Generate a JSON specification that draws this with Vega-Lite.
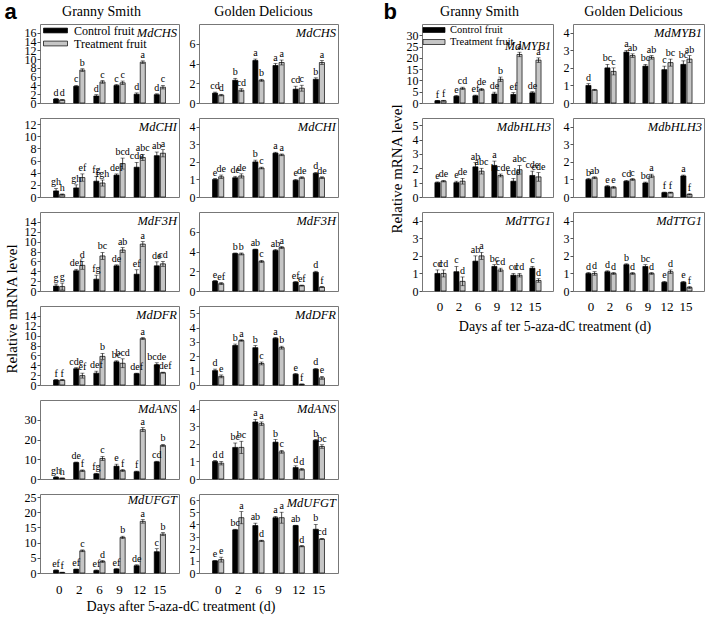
{
"$schema":"https://vega.github.io/schema/vega-lite/v6.json",
"padding":{"left":4,"top":0,"right":4,"bottom":2},
"config":{"font":"Liberation Serif","view":{"stroke":"#777","strokeWidth":1},
"axis":{"grid":false,"labelFont":"Liberation Serif","labelFontSize":12,"labelColor":"black","domain":false,"tickSize":3,"tickColor":"#555","labelPadding":1,"labelOverlap":false},
"title":{"font":"Liberation Serif","fontWeight":"normal","fontSize":14,"color":"black"},
"text":{"font":"Liberation Serif","baseline":"bottom","dy":-1,"fontSize":10,"color":"black"},
"bar":{"stroke":"black","strokeWidth":0.7},
"rule":{"strokeWidth":0.7,"color":"black"},
"tick":{"thickness":0.7,"color":"black"}},
"datasets":{"d":[
{"g":"MdCHS","c":"GS","d":0,"t":"C","v":0.9,"lo":0.8,"hi":1.0,"l":"d"},
{"g":"MdCHS","c":"GS","d":0,"t":"T","v":0.7,"lo":0.6,"hi":0.8,"l":"d"},
{"g":"MdCHS","c":"GS","d":2,"t":"C","v":3.8,"lo":3.6,"hi":4.0,"l":"c"},
{"g":"MdCHS","c":"GS","d":2,"t":"T","v":7.5,"lo":7.2,"hi":7.8,"l":"b"},
{"g":"MdCHS","c":"GS","d":6,"t":"C","v":1.6,"lo":1.3,"hi":1.9,"l":"d"},
{"g":"MdCHS","c":"GS","d":6,"t":"T","v":4.8,"lo":4.5,"hi":5.1,"l":"c"},
{"g":"MdCHS","c":"GS","d":9,"t":"C","v":4.0,"lo":3.8,"hi":4.2,"l":"c"},
{"g":"MdCHS","c":"GS","d":9,"t":"T","v":4.6,"lo":4.2,"hi":5.0,"l":"c"},
{"g":"MdCHS","c":"GS","d":12,"t":"C","v":2.0,"lo":1.7,"hi":2.3,"l":"d"},
{"g":"MdCHS","c":"GS","d":12,"t":"T","v":9.3,"lo":9.0,"hi":9.6,"l":"a"},
{"g":"MdCHS","c":"GS","d":15,"t":"C","v":1.9,"lo":1.7,"hi":2.1,"l":"d"},
{"g":"MdCHS","c":"GS","d":15,"t":"T","v":3.6,"lo":3.2,"hi":4.0,"l":"c"},
{"g":"MdCHS","c":"GD","d":0,"t":"C","v":1.0,"lo":0.9,"hi":1.1,"l":"cd"},
{"g":"MdCHS","c":"GD","d":0,"t":"T","v":0.8,"lo":0.72,"hi":0.88,"l":"d"},
{"g":"MdCHS","c":"GD","d":2,"t":"C","v":2.3,"lo":2.1,"hi":2.5,"l":"b"},
{"g":"MdCHS","c":"GD","d":2,"t":"T","v":1.3,"lo":1.15,"hi":1.45,"l":"cd"},
{"g":"MdCHS","c":"GD","d":6,"t":"C","v":4.3,"lo":4.15,"hi":4.45,"l":"a"},
{"g":"MdCHS","c":"GD","d":6,"t":"T","v":2.3,"lo":2.2,"hi":2.4,"l":"b"},
{"g":"MdCHS","c":"GD","d":9,"t":"C","v":3.8,"lo":3.6,"hi":4.0,"l":"a"},
{"g":"MdCHS","c":"GD","d":9,"t":"T","v":4.1,"lo":3.85,"hi":4.35,"l":"a"},
{"g":"MdCHS","c":"GD","d":12,"t":"C","v":1.4,"lo":1.1,"hi":1.7,"l":"cd"},
{"g":"MdCHS","c":"GD","d":12,"t":"T","v":1.5,"lo":1.2,"hi":1.8,"l":"c"},
{"g":"MdCHS","c":"GD","d":15,"t":"C","v":2.4,"lo":2.25,"hi":2.55,"l":"b"},
{"g":"MdCHS","c":"GD","d":15,"t":"T","v":4.1,"lo":3.9,"hi":4.3,"l":"a"},
{"g":"MdCHI","c":"GS","d":0,"t":"C","v":1.0,"lo":0.6,"hi":1.4,"l":"gh"},
{"g":"MdCHI","c":"GS","d":0,"t":"T","v":0.4,"lo":0.3,"hi":0.5,"l":"h"},
{"g":"MdCHI","c":"GS","d":2,"t":"C","v":1.5,"lo":1.0,"hi":2.0,"l":"gh"},
{"g":"MdCHI","c":"GS","d":2,"t":"T","v":3.2,"lo":2.6,"hi":3.8,"l":"ef"},
{"g":"MdCHI","c":"GS","d":6,"t":"C","v":2.6,"lo":1.8,"hi":3.4,"l":"fg"},
{"g":"MdCHI","c":"GS","d":6,"t":"T","v":2.3,"lo":1.8,"hi":2.8,"l":"fgh"},
{"g":"MdCHI","c":"GS","d":9,"t":"C","v":3.6,"lo":3.4,"hi":3.8,"l":"def"},
{"g":"MdCHI","c":"GS","d":9,"t":"T","v":5.5,"lo":4.6,"hi":6.4,"l":"bcd"},
{"g":"MdCHI","c":"GS","d":12,"t":"C","v":4.9,"lo":4.1,"hi":5.7,"l":"cde"},
{"g":"MdCHI","c":"GS","d":12,"t":"T","v":6.5,"lo":6.0,"hi":7.0,"l":"abc"},
{"g":"MdCHI","c":"GS","d":15,"t":"C","v":6.8,"lo":6.2,"hi":7.4,"l":"ab"},
{"g":"MdCHI","c":"GS","d":15,"t":"T","v":7.2,"lo":6.6,"hi":7.8,"l":"a"},
{"g":"MdCHI","c":"GD","d":0,"t":"C","v":1.0,"lo":0.95,"hi":1.05,"l":"e"},
{"g":"MdCHI","c":"GD","d":0,"t":"T","v":1.15,"lo":1.05,"hi":1.25,"l":"de"},
{"g":"MdCHI","c":"GD","d":2,"t":"C","v":1.1,"lo":1.02,"hi":1.18,"l":"de"},
{"g":"MdCHI","c":"GD","d":2,"t":"T","v":1.2,"lo":1.08,"hi":1.32,"l":"de"},
{"g":"MdCHI","c":"GD","d":6,"t":"C","v":2.0,"lo":1.9,"hi":2.1,"l":"b"},
{"g":"MdCHI","c":"GD","d":6,"t":"T","v":1.65,"lo":1.6,"hi":1.7,"l":"c"},
{"g":"MdCHI","c":"GD","d":9,"t":"C","v":2.5,"lo":2.45,"hi":2.55,"l":"a"},
{"g":"MdCHI","c":"GD","d":9,"t":"T","v":2.4,"lo":2.35,"hi":2.45,"l":"a"},
{"g":"MdCHI","c":"GD","d":12,"t":"C","v":0.95,"lo":0.9,"hi":1.0,"l":"e"},
{"g":"MdCHI","c":"GD","d":12,"t":"T","v":1.1,"lo":1.05,"hi":1.15,"l":"de"},
{"g":"MdCHI","c":"GD","d":15,"t":"C","v":1.35,"lo":1.3,"hi":1.4,"l":"d"},
{"g":"MdCHI","c":"GD","d":15,"t":"T","v":1.1,"lo":1.05,"hi":1.15,"l":"de"},
{"g":"MdF3H","c":"GS","d":0,"t":"C","v":1.0,"lo":0.6,"hi":1.4,"l":"g"},
{"g":"MdF3H","c":"GS","d":0,"t":"T","v":0.9,"lo":0.2,"hi":1.6,"l":"g"},
{"g":"MdF3H","c":"GS","d":2,"t":"C","v":4.1,"lo":3.8,"hi":4.4,"l":"def"},
{"g":"MdF3H","c":"GS","d":2,"t":"T","v":5.2,"lo":4.4,"hi":6.0,"l":"d"},
{"g":"MdF3H","c":"GS","d":6,"t":"C","v":2.4,"lo":1.6,"hi":3.2,"l":"fg"},
{"g":"MdF3H","c":"GS","d":6,"t":"T","v":7.1,"lo":6.4,"hi":7.8,"l":"bc"},
{"g":"MdF3H","c":"GS","d":9,"t":"C","v":5.1,"lo":4.9,"hi":5.3,"l":"de"},
{"g":"MdF3H","c":"GS","d":9,"t":"T","v":8.3,"lo":7.8,"hi":8.8,"l":"ab"},
{"g":"MdF3H","c":"GS","d":12,"t":"C","v":3.4,"lo":2.5,"hi":4.3,"l":"ef"},
{"g":"MdF3H","c":"GS","d":12,"t":"T","v":9.5,"lo":9.0,"hi":10.0,"l":"a"},
{"g":"MdF3H","c":"GS","d":15,"t":"C","v":5.1,"lo":4.3,"hi":5.9,"l":"de"},
{"g":"MdF3H","c":"GS","d":15,"t":"T","v":5.5,"lo":5.0,"hi":6.0,"l":"cd"},
{"g":"MdF3H","c":"GD","d":0,"t":"C","v":1.0,"lo":0.95,"hi":1.05,"l":"e"},
{"g":"MdF3H","c":"GD","d":0,"t":"T","v":0.75,"lo":0.65,"hi":0.85,"l":"ef"},
{"g":"MdF3H","c":"GD","d":2,"t":"C","v":3.8,"lo":3.75,"hi":3.85,"l":"b"},
{"g":"MdF3H","c":"GD","d":2,"t":"T","v":3.75,"lo":3.65,"hi":3.85,"l":"b"},
{"g":"MdF3H","c":"GD","d":6,"t":"C","v":4.2,"lo":4.15,"hi":4.25,"l":"ab"},
{"g":"MdF3H","c":"GD","d":6,"t":"T","v":3.0,"lo":2.9,"hi":3.1,"l":"c"},
{"g":"MdF3H","c":"GD","d":9,"t":"C","v":4.1,"lo":4.0,"hi":4.2,"l":"ab"},
{"g":"MdF3H","c":"GD","d":9,"t":"T","v":4.4,"lo":4.3,"hi":4.5,"l":"a"},
{"g":"MdF3H","c":"GD","d":12,"t":"C","v":0.9,"lo":0.85,"hi":0.95,"l":"ef"},
{"g":"MdF3H","c":"GD","d":12,"t":"T","v":0.55,"lo":0.5,"hi":0.6,"l":"ef"},
{"g":"MdF3H","c":"GD","d":15,"t":"C","v":1.9,"lo":1.8,"hi":2.0,"l":"d"},
{"g":"MdF3H","c":"GD","d":15,"t":"T","v":0.4,"lo":0.35,"hi":0.45,"l":"f"},
{"g":"MdDFR","c":"GS","d":0,"t":"C","v":1.0,"lo":0.9,"hi":1.1,"l":"f"},
{"g":"MdDFR","c":"GS","d":0,"t":"T","v":1.0,"lo":0.9,"hi":1.1,"l":"f"},
{"g":"MdDFR","c":"GS","d":2,"t":"C","v":3.3,"lo":3.1,"hi":3.5,"l":"cde"},
{"g":"MdDFR","c":"GS","d":2,"t":"T","v":1.9,"lo":1.4,"hi":2.4,"l":"ef"},
{"g":"MdDFR","c":"GS","d":6,"t":"C","v":2.4,"lo":2.0,"hi":2.8,"l":"def"},
{"g":"MdDFR","c":"GS","d":6,"t":"T","v":5.8,"lo":5.2,"hi":6.4,"l":"b"},
{"g":"MdDFR","c":"GS","d":9,"t":"C","v":4.7,"lo":4.5,"hi":4.9,"l":"bc"},
{"g":"MdDFR","c":"GS","d":9,"t":"T","v":4.4,"lo":3.5,"hi":5.3,"l":"bcd"},
{"g":"MdDFR","c":"GS","d":12,"t":"C","v":2.3,"lo":2.2,"hi":2.4,"l":"def"},
{"g":"MdDFR","c":"GS","d":12,"t":"T","v":9.4,"lo":9.2,"hi":9.6,"l":"a"},
{"g":"MdDFR","c":"GS","d":15,"t":"C","v":4.1,"lo":3.7,"hi":4.5,"l":"bcde"},
{"g":"MdDFR","c":"GS","d":15,"t":"T","v":2.5,"lo":2.4,"hi":2.6,"l":"cdef"},
{"g":"MdDFR","c":"GD","d":0,"t":"C","v":1.0,"lo":0.9,"hi":1.1,"l":"d"},
{"g":"MdDFR","c":"GD","d":0,"t":"T","v":0.6,"lo":0.5,"hi":0.7,"l":"e"},
{"g":"MdDFR","c":"GD","d":2,"t":"C","v":2.75,"lo":2.65,"hi":2.85,"l":"b"},
{"g":"MdDFR","c":"GD","d":2,"t":"T","v":3.1,"lo":3.05,"hi":3.15,"l":"a"},
{"g":"MdDFR","c":"GD","d":6,"t":"C","v":2.6,"lo":2.45,"hi":2.75,"l":"b"},
{"g":"MdDFR","c":"GD","d":6,"t":"T","v":1.5,"lo":1.4,"hi":1.6,"l":"c"},
{"g":"MdDFR","c":"GD","d":9,"t":"C","v":3.25,"lo":3.2,"hi":3.3,"l":"a"},
{"g":"MdDFR","c":"GD","d":9,"t":"T","v":2.6,"lo":2.5,"hi":2.7,"l":"b"},
{"g":"MdDFR","c":"GD","d":12,"t":"C","v":0.75,"lo":0.7,"hi":0.8,"l":"e"},
{"g":"MdDFR","c":"GD","d":12,"t":"T","v":0.05,"lo":0.03,"hi":0.07,"l":"f"},
{"g":"MdDFR","c":"GD","d":15,"t":"C","v":1.1,"lo":1.05,"hi":1.15,"l":"d"},
{"g":"MdDFR","c":"GD","d":15,"t":"T","v":0.5,"lo":0.4,"hi":0.6,"l":"e"},
{"g":"MdANS","c":"GS","d":0,"t":"C","v":0.9,"lo":0.7,"hi":1.1,"l":"gh"},
{"g":"MdANS","c":"GS","d":0,"t":"T","v":0.4,"lo":0.3,"hi":0.5,"l":"h"},
{"g":"MdANS","c":"GS","d":2,"t":"C","v":8.3,"lo":8.0,"hi":8.6,"l":"de"},
{"g":"MdANS","c":"GS","d":2,"t":"T","v":4.2,"lo":3.8,"hi":4.6,"l":"f"},
{"g":"MdANS","c":"GS","d":6,"t":"C","v":2.6,"lo":2.3,"hi":2.9,"l":"fg"},
{"g":"MdANS","c":"GS","d":6,"t":"T","v":10.4,"lo":9.4,"hi":11.4,"l":"c"},
{"g":"MdANS","c":"GS","d":9,"t":"C","v":6.5,"lo":5.5,"hi":7.5,"l":"e"},
{"g":"MdANS","c":"GS","d":9,"t":"T","v":4.3,"lo":3.8,"hi":4.8,"l":"f"},
{"g":"MdANS","c":"GS","d":12,"t":"C","v":3.7,"lo":3.4,"hi":4.0,"l":"f"},
{"g":"MdANS","c":"GS","d":12,"t":"T","v":25.0,"lo":24.0,"hi":26.0,"l":"a"},
{"g":"MdANS","c":"GS","d":15,"t":"C","v":8.7,"lo":8.4,"hi":9.0,"l":"cd"},
{"g":"MdANS","c":"GS","d":15,"t":"T","v":17.0,"lo":16.5,"hi":17.5,"l":"b"},
{"g":"MdANS","c":"GD","d":0,"t":"C","v":1.0,"lo":0.95,"hi":1.05,"l":"d"},
{"g":"MdANS","c":"GD","d":0,"t":"T","v":0.9,"lo":0.8,"hi":1.0,"l":"d"},
{"g":"MdANS","c":"GD","d":2,"t":"C","v":1.8,"lo":1.55,"hi":2.05,"l":"bc"},
{"g":"MdANS","c":"GD","d":2,"t":"T","v":1.8,"lo":1.45,"hi":2.15,"l":"bc"},
{"g":"MdANS","c":"GD","d":6,"t":"C","v":3.25,"lo":3.1,"hi":3.4,"l":"a"},
{"g":"MdANS","c":"GD","d":6,"t":"T","v":3.15,"lo":3.05,"hi":3.25,"l":"a"},
{"g":"MdANS","c":"GD","d":9,"t":"C","v":2.1,"lo":1.95,"hi":2.25,"l":"b"},
{"g":"MdANS","c":"GD","d":9,"t":"T","v":1.55,"lo":1.47,"hi":1.63,"l":"c"},
{"g":"MdANS","c":"GD","d":12,"t":"C","v":0.65,"lo":0.55,"hi":0.75,"l":"d"},
{"g":"MdANS","c":"GD","d":12,"t":"T","v":0.55,"lo":0.5,"hi":0.6,"l":"d"},
{"g":"MdANS","c":"GD","d":15,"t":"C","v":2.2,"lo":2.15,"hi":2.25,"l":"b"},
{"g":"MdANS","c":"GD","d":15,"t":"T","v":1.85,"lo":1.75,"hi":1.95,"l":"bc"},
{"g":"MdUFGT","c":"GS","d":0,"t":"C","v":0.9,"lo":0.8,"hi":1.0,"l":"ef"},
{"g":"MdUFGT","c":"GS","d":0,"t":"T","v":0.2,"lo":0.15,"hi":0.25,"l":"f"},
{"g":"MdUFGT","c":"GS","d":2,"t":"C","v":1.2,"lo":1.1,"hi":1.3,"l":"ef"},
{"g":"MdUFGT","c":"GS","d":2,"t":"T","v":7.3,"lo":7.0,"hi":7.6,"l":"c"},
{"g":"MdUFGT","c":"GS","d":6,"t":"C","v":0.8,"lo":0.6,"hi":1.0,"l":"ef"},
{"g":"MdUFGT","c":"GS","d":6,"t":"T","v":3.8,"lo":3.5,"hi":4.1,"l":"d"},
{"g":"MdUFGT","c":"GS","d":9,"t":"C","v":1.3,"lo":1.2,"hi":1.4,"l":"ef"},
{"g":"MdUFGT","c":"GS","d":9,"t":"T","v":11.7,"lo":11.3,"hi":12.1,"l":"b"},
{"g":"MdUFGT","c":"GS","d":12,"t":"C","v":2.4,"lo":2.1,"hi":2.7,"l":"de"},
{"g":"MdUFGT","c":"GS","d":12,"t":"T","v":17.0,"lo":16.4,"hi":17.6,"l":"a"},
{"g":"MdUFGT","c":"GS","d":15,"t":"C","v":7.0,"lo":6.0,"hi":8.0,"l":"c"},
{"g":"MdUFGT","c":"GS","d":15,"t":"T","v":12.8,"lo":12.3,"hi":13.3,"l":"b"},
{"g":"MdUFGT","c":"GD","d":0,"t":"C","v":1.0,"lo":0.97,"hi":1.03,"l":"e"},
{"g":"MdUFGT","c":"GD","d":0,"t":"T","v":1.1,"lo":0.9,"hi":1.3,"l":"e"},
{"g":"MdUFGT","c":"GD","d":2,"t":"C","v":3.55,"lo":3.5,"hi":3.6,"l":"bc"},
{"g":"MdUFGT","c":"GD","d":2,"t":"T","v":4.55,"lo":4.05,"hi":5.05,"l":"a"},
{"g":"MdUFGT","c":"GD","d":6,"t":"C","v":3.9,"lo":3.7,"hi":4.1,"l":"ab"},
{"g":"MdUFGT","c":"GD","d":6,"t":"T","v":2.65,"lo":2.6,"hi":2.7,"l":"d"},
{"g":"MdUFGT","c":"GD","d":9,"t":"C","v":4.55,"lo":4.45,"hi":4.65,"l":"a"},
{"g":"MdUFGT","c":"GD","d":9,"t":"T","v":4.55,"lo":4.1,"hi":5.0,"l":"a"},
{"g":"MdUFGT","c":"GD","d":12,"t":"C","v":3.9,"lo":3.87,"hi":3.93,"l":"ab"},
{"g":"MdUFGT","c":"GD","d":12,"t":"T","v":2.2,"lo":2.15,"hi":2.25,"l":"d"},
{"g":"MdUFGT","c":"GD","d":15,"t":"C","v":3.6,"lo":3.2,"hi":4.0,"l":"b"},
{"g":"MdUFGT","c":"GD","d":15,"t":"T","v":2.8,"lo":2.75,"hi":2.85,"l":"cd"},
{"g":"MdMYB1","c":"GS","d":0,"t":"C","v":1.0,"lo":0.9,"hi":1.1,"l":"f"},
{"g":"MdMYB1","c":"GS","d":0,"t":"T","v":1.0,"lo":0.8,"hi":1.2,"l":"f"},
{"g":"MdMYB1","c":"GS","d":2,"t":"C","v":3.0,"lo":2.7,"hi":3.3,"l":"e"},
{"g":"MdMYB1","c":"GS","d":2,"t":"T","v":6.5,"lo":6.0,"hi":7.0,"l":"cd"},
{"g":"MdMYB1","c":"GS","d":6,"t":"C","v":3.2,"lo":2.9,"hi":3.5,"l":"ef"},
{"g":"MdMYB1","c":"GS","d":6,"t":"T","v":6.0,"lo":5.5,"hi":6.5,"l":"de"},
{"g":"MdMYB1","c":"GS","d":9,"t":"C","v":4.0,"lo":3.2,"hi":4.8,"l":"de"},
{"g":"MdMYB1","c":"GS","d":9,"t":"T","v":10.5,"lo":9.5,"hi":11.5,"l":"b"},
{"g":"MdMYB1","c":"GS","d":12,"t":"C","v":3.8,"lo":3.0,"hi":4.6,"l":"ef"},
{"g":"MdMYB1","c":"GS","d":12,"t":"T","v":21.5,"lo":20.5,"hi":22.5,"l":"a"},
{"g":"MdMYB1","c":"GS","d":15,"t":"C","v":4.5,"lo":4.0,"hi":5.0,"l":"de"},
{"g":"MdMYB1","c":"GS","d":15,"t":"T","v":19.0,"lo":18.0,"hi":20.0,"l":"a"},
{"g":"MdMYB1","c":"GD","d":0,"t":"C","v":1.0,"lo":0.9,"hi":1.1,"l":"d"},
{"g":"MdMYB1","c":"GD","d":0,"t":"T","v":0.75,"lo":0.72,"hi":0.78,"l":""},
{"g":"MdMYB1","c":"GD","d":2,"t":"C","v":2.0,"lo":1.8,"hi":2.2,"l":"bc"},
{"g":"MdMYB1","c":"GD","d":2,"t":"T","v":1.8,"lo":1.6,"hi":2.0,"l":"c"},
{"g":"MdMYB1","c":"GD","d":6,"t":"C","v":2.9,"lo":2.8,"hi":3.0,"l":"a"},
{"g":"MdMYB1","c":"GD","d":6,"t":"T","v":2.7,"lo":2.6,"hi":2.8,"l":"ab"},
{"g":"MdMYB1","c":"GD","d":9,"t":"C","v":2.1,"lo":2.0,"hi":2.2,"l":"bc"},
{"g":"MdMYB1","c":"GD","d":9,"t":"T","v":2.6,"lo":2.5,"hi":2.7,"l":"ab"},
{"g":"MdMYB1","c":"GD","d":12,"t":"C","v":1.9,"lo":1.7,"hi":2.1,"l":"c"},
{"g":"MdMYB1","c":"GD","d":12,"t":"T","v":2.3,"lo":2.1,"hi":2.5,"l":"bc"},
{"g":"MdMYB1","c":"GD","d":15,"t":"C","v":2.2,"lo":2.0,"hi":2.4,"l":"bc"},
{"g":"MdMYB1","c":"GD","d":15,"t":"T","v":2.5,"lo":2.3,"hi":2.7,"l":"ab"},
{"g":"MdbHLH3","c":"GS","d":0,"t":"C","v":1.0,"lo":0.95,"hi":1.05,"l":"e"},
{"g":"MdbHLH3","c":"GS","d":0,"t":"T","v":1.1,"lo":1.05,"hi":1.15,"l":"de"},
{"g":"MdbHLH3","c":"GS","d":2,"t":"C","v":1.0,"lo":0.9,"hi":1.1,"l":"e"},
{"g":"MdbHLH3","c":"GS","d":2,"t":"T","v":1.1,"lo":0.9,"hi":1.3,"l":"de"},
{"g":"MdbHLH3","c":"GS","d":6,"t":"C","v":2.1,"lo":1.8,"hi":2.4,"l":"ab"},
{"g":"MdbHLH3","c":"GS","d":6,"t":"T","v":1.8,"lo":1.6,"hi":2.0,"l":"abc"},
{"g":"MdbHLH3","c":"GS","d":9,"t":"C","v":2.2,"lo":1.9,"hi":2.5,"l":"a"},
{"g":"MdbHLH3","c":"GS","d":9,"t":"T","v":1.5,"lo":1.4,"hi":1.6,"l":"bcde"},
{"g":"MdbHLH3","c":"GS","d":12,"t":"C","v":1.1,"lo":0.9,"hi":1.3,"l":"cde"},
{"g":"MdbHLH3","c":"GS","d":12,"t":"T","v":1.9,"lo":1.6,"hi":2.2,"l":"abc"},
{"g":"MdbHLH3","c":"GS","d":15,"t":"C","v":1.5,"lo":1.2,"hi":1.8,"l":"cde"},
{"g":"MdbHLH3","c":"GS","d":15,"t":"T","v":1.4,"lo":1.1,"hi":1.7,"l":"cde"},
{"g":"MdbHLH3","c":"GD","d":0,"t":"C","v":1.0,"lo":0.95,"hi":1.05,"l":"b"},
{"g":"MdbHLH3","c":"GD","d":0,"t":"T","v":1.1,"lo":1.05,"hi":1.15,"l":"ab"},
{"g":"MdbHLH3","c":"GD","d":2,"t":"C","v":0.6,"lo":0.55,"hi":0.65,"l":"e"},
{"g":"MdbHLH3","c":"GD","d":2,"t":"T","v":0.55,"lo":0.5,"hi":0.6,"l":"e"},
{"g":"MdbHLH3","c":"GD","d":6,"t":"C","v":0.9,"lo":0.85,"hi":0.95,"l":"cd"},
{"g":"MdbHLH3","c":"GD","d":6,"t":"T","v":1.0,"lo":0.95,"hi":1.05,"l":"c"},
{"g":"MdbHLH3","c":"GD","d":9,"t":"C","v":0.8,"lo":0.75,"hi":0.85,"l":"bc"},
{"g":"MdbHLH3","c":"GD","d":9,"t":"T","v":1.2,"lo":1.1,"hi":1.3,"l":"a"},
{"g":"MdbHLH3","c":"GD","d":12,"t":"C","v":0.25,"lo":0.22,"hi":0.28,"l":"f"},
{"g":"MdbHLH3","c":"GD","d":12,"t":"T","v":0.25,"lo":0.22,"hi":0.28,"l":"f"},
{"g":"MdbHLH3","c":"GD","d":15,"t":"C","v":1.2,"lo":1.15,"hi":1.25,"l":"a"},
{"g":"MdbHLH3","c":"GD","d":15,"t":"T","v":0.15,"lo":0.12,"hi":0.18,"l":"f"},
{"g":"MdTTG1","c":"GS","d":0,"t":"C","v":1.0,"lo":0.8,"hi":1.2,"l":"cd"},
{"g":"MdTTG1","c":"GS","d":0,"t":"T","v":1.0,"lo":0.8,"hi":1.2,"l":"cd"},
{"g":"MdTTG1","c":"GS","d":2,"t":"C","v":1.1,"lo":0.8,"hi":1.4,"l":"c"},
{"g":"MdTTG1","c":"GS","d":2,"t":"T","v":0.55,"lo":0.3,"hi":0.8,"l":"d"},
{"g":"MdTTG1","c":"GS","d":6,"t":"C","v":1.7,"lo":1.4,"hi":2.0,"l":"ab"},
{"g":"MdTTG1","c":"GS","d":6,"t":"T","v":2.0,"lo":1.8,"hi":2.2,"l":"a"},
{"g":"MdTTG1","c":"GS","d":9,"t":"C","v":1.4,"lo":1.3,"hi":1.5,"l":"bc"},
{"g":"MdTTG1","c":"GS","d":9,"t":"T","v":1.2,"lo":1.1,"hi":1.3,"l":"cd"},
{"g":"MdTTG1","c":"GS","d":12,"t":"C","v":0.9,"lo":0.8,"hi":1.0,"l":"cd"},
{"g":"MdTTG1","c":"GS","d":12,"t":"T","v":0.9,"lo":0.8,"hi":1.0,"l":"cd"},
{"g":"MdTTG1","c":"GS","d":15,"t":"C","v":1.3,"lo":1.2,"hi":1.4,"l":"c"},
{"g":"MdTTG1","c":"GS","d":15,"t":"T","v":0.6,"lo":0.5,"hi":0.7,"l":"d"},
{"g":"MdTTG1","c":"GD","d":0,"t":"C","v":1.0,"lo":0.95,"hi":1.05,"l":"d"},
{"g":"MdTTG1","c":"GD","d":0,"t":"T","v":1.0,"lo":0.9,"hi":1.1,"l":"d"},
{"g":"MdTTG1","c":"GD","d":2,"t":"C","v":1.1,"lo":1.05,"hi":1.15,"l":"d"},
{"g":"MdTTG1","c":"GD","d":2,"t":"T","v":1.0,"lo":0.95,"hi":1.05,"l":"d"},
{"g":"MdTTG1","c":"GD","d":6,"t":"C","v":1.5,"lo":1.45,"hi":1.55,"l":"b"},
{"g":"MdTTG1","c":"GD","d":6,"t":"T","v":1.0,"lo":0.95,"hi":1.05,"l":"d"},
{"g":"MdTTG1","c":"GD","d":9,"t":"C","v":1.4,"lo":1.3,"hi":1.5,"l":"bc"},
{"g":"MdTTG1","c":"GD","d":9,"t":"T","v":1.0,"lo":0.95,"hi":1.05,"l":"d"},
{"g":"MdTTG1","c":"GD","d":12,"t":"C","v":0.5,"lo":0.45,"hi":0.55,"l":"e"},
{"g":"MdTTG1","c":"GD","d":12,"t":"T","v":1.1,"lo":1.0,"hi":1.2,"l":"d"},
{"g":"MdTTG1","c":"GD","d":15,"t":"C","v":0.5,"lo":0.45,"hi":0.55,"l":"e"},
{"g":"MdTTG1","c":"GD","d":15,"t":"T","v":0.2,"lo":0.15,"hi":0.25,"l":"f"}
]},
"data":{"name":"d"},
"resolve":{"legend":{"fill":"independent"}},
"spacing":44,
"hconcat":[
{"title":{"text":"a","anchor":"start","fontSize":22,"fontWeight":"bold","font":"Liberation Sans","offset":-19},
 "resolve":{"legend":{"fill":"independent"}},
 "vconcat":[
 {"title":{"text":"Relative mRNA level","orient":"left","anchor":"middle","fontSize":15,"offset":4},
  "resolve":{"legend":{"fill":"independent"}},
  "hconcat":[
  {"title":{"text":"Days after 5-aza-dC treatment (d)","orient":"bottom","anchor":"middle","fontSize":14,"offset":3},
   "resolve":{"legend":{"fill":"independent"}},
   "spacing":8,
   "hconcat":[
   {"title":{"text":"Granny Smith","anchor":"middle","offset":5},"bounds":"flush","spacing":15,"resolve":{"legend":{"fill":"independent"}},
    "vconcat":[
{"width":139,"height":79,"title":{"text":"MdCHS","anchor":"end","offset":-15,"fontStyle":"italic","fontSize":12.5,"dx":-2},"transform":[{"filter":"datum.g=='MdCHS'&&datum.c=='GS'"}],
"encoding":{"x":{"field":"d","type":"ordinal","sort":[0,2,6,9,12,15],"scale":{"paddingInner":0.2,"paddingOuter":0.55},"axis":null},"xOffset":{"field":"t","scale":{"paddingInner":0.17,"paddingOuter":0.4}}},
"layer":[
{"mark":"bar","encoding":{"y":{"field":"v","type":"quantitative","title":null,"scale":{"domain":[0,16.2]},"axis":{"values":[0,2,4,6,8,10,12,14,16],"labelOverlap":false,"labelBound":false,"labelFlush":false}},"fill":{"field":"t","scale":{"domain":["C","T"],"range":["black","#c6c6c6"]},"legend":{"orient":"none","legendX":9,"legendY":0,"title":null,"padding":0,"labelExpr":"datum.value=='C'?'Control fruit':'Treatment fruit'","symbolType":"M-2,-0.4H2V0.4H-2Z","symbolSize":144,"symbolStrokeColor":"black","symbolStrokeWidth":0.7,"labelFontSize":12,"labelFont":"Liberation Serif","rowPadding":0,"labelOffset":12}}}},
{"mark":"rule","encoding":{"y":{"field":"lo","type":"quantitative","title":null,"axis":{"values":[0,2,4,6,8,10,12,14,16],"labelOverlap":false,"labelBound":false,"labelFlush":false}},"y2":{"field":"hi"}}},
{"mark":{"type":"tick","size":4},"encoding":{"y":{"field":"lo","type":"quantitative","title":null,"axis":{"values":[0,2,4,6,8,10,12,14,16],"labelOverlap":false,"labelBound":false,"labelFlush":false}}}},
{"mark":{"type":"tick","size":4},"encoding":{"y":{"field":"hi","type":"quantitative","title":null,"axis":{"values":[0,2,4,6,8,10,12,14,16],"labelOverlap":false,"labelBound":false,"labelFlush":false}}}},
{"mark":"text","encoding":{"y":{"field":"hi","type":"quantitative","title":null,"axis":{"values":[0,2,4,6,8,10,12,14,16],"labelOverlap":false,"labelBound":false,"labelFlush":false}},"text":{"field":"l"}}}]},
{"width":139,"height":79,"title":{"text":"MdCHI","anchor":"end","offset":-15,"fontStyle":"italic","fontSize":12.5,"dx":-2},"transform":[{"filter":"datum.g=='MdCHI'&&datum.c=='GS'"}],
"encoding":{"x":{"field":"d","type":"ordinal","sort":[0,2,6,9,12,15],"scale":{"paddingInner":0.2,"paddingOuter":0.55},"axis":null},"xOffset":{"field":"t","scale":{"paddingInner":0.17,"paddingOuter":0.4}}},
"layer":[
{"mark":"bar","encoding":{"y":{"field":"v","type":"quantitative","title":null,"scale":{"domain":[0,12.6]},"axis":{"values":[0,2,4,6,8,10,12],"labelOverlap":false,"labelBound":false,"labelFlush":false}},"fill":{"field":"t","scale":{"domain":["C","T"],"range":["black","#c6c6c6"]},"legend":null}}},
{"mark":"rule","encoding":{"y":{"field":"lo","type":"quantitative","title":null,"axis":{"values":[0,2,4,6,8,10,12],"labelOverlap":false,"labelBound":false,"labelFlush":false}},"y2":{"field":"hi"}}},
{"mark":{"type":"tick","size":4},"encoding":{"y":{"field":"lo","type":"quantitative","title":null,"axis":{"values":[0,2,4,6,8,10,12],"labelOverlap":false,"labelBound":false,"labelFlush":false}}}},
{"mark":{"type":"tick","size":4},"encoding":{"y":{"field":"hi","type":"quantitative","title":null,"axis":{"values":[0,2,4,6,8,10,12],"labelOverlap":false,"labelBound":false,"labelFlush":false}}}},
{"mark":"text","encoding":{"y":{"field":"hi","type":"quantitative","title":null,"axis":{"values":[0,2,4,6,8,10,12],"labelOverlap":false,"labelBound":false,"labelFlush":false}},"text":{"field":"l"}}}]},
{"width":139,"height":79,"title":{"text":"MdF3H","anchor":"end","offset":-15,"fontStyle":"italic","fontSize":12.5,"dx":-2},"transform":[{"filter":"datum.g=='MdF3H'&&datum.c=='GS'"}],
"encoding":{"x":{"field":"d","type":"ordinal","sort":[0,2,6,9,12,15],"scale":{"paddingInner":0.2,"paddingOuter":0.55},"axis":null},"xOffset":{"field":"t","scale":{"paddingInner":0.17,"paddingOuter":0.4}}},
"layer":[
{"mark":"bar","encoding":{"y":{"field":"v","type":"quantitative","title":null,"scale":{"domain":[0,14.4]},"axis":{"values":[0,2,4,6,8,10,12,14],"labelOverlap":false,"labelBound":false,"labelFlush":false}},"fill":{"field":"t","scale":{"domain":["C","T"],"range":["black","#c6c6c6"]},"legend":null}}},
{"mark":"rule","encoding":{"y":{"field":"lo","type":"quantitative","title":null,"axis":{"values":[0,2,4,6,8,10,12,14],"labelOverlap":false,"labelBound":false,"labelFlush":false}},"y2":{"field":"hi"}}},
{"mark":{"type":"tick","size":4},"encoding":{"y":{"field":"lo","type":"quantitative","title":null,"axis":{"values":[0,2,4,6,8,10,12,14],"labelOverlap":false,"labelBound":false,"labelFlush":false}}}},
{"mark":{"type":"tick","size":4},"encoding":{"y":{"field":"hi","type":"quantitative","title":null,"axis":{"values":[0,2,4,6,8,10,12,14],"labelOverlap":false,"labelBound":false,"labelFlush":false}}}},
{"mark":"text","encoding":{"y":{"field":"hi","type":"quantitative","title":null,"axis":{"values":[0,2,4,6,8,10,12,14],"labelOverlap":false,"labelBound":false,"labelFlush":false}},"text":{"field":"l"}}}]},
{"width":139,"height":79,"title":{"text":"MdDFR","anchor":"end","offset":-15,"fontStyle":"italic","fontSize":12.5,"dx":-2},"transform":[{"filter":"datum.g=='MdDFR'&&datum.c=='GS'"}],
"encoding":{"x":{"field":"d","type":"ordinal","sort":[0,2,6,9,12,15],"scale":{"paddingInner":0.2,"paddingOuter":0.55},"axis":null},"xOffset":{"field":"t","scale":{"paddingInner":0.17,"paddingOuter":0.4}}},
"layer":[
{"mark":"bar","encoding":{"y":{"field":"v","type":"quantitative","title":null,"scale":{"domain":[0,14.7]},"axis":{"values":[0,2,4,6,8,10,12,14],"labelOverlap":false,"labelBound":false,"labelFlush":false}},"fill":{"field":"t","scale":{"domain":["C","T"],"range":["black","#c6c6c6"]},"legend":null}}},
{"mark":"rule","encoding":{"y":{"field":"lo","type":"quantitative","title":null,"axis":{"values":[0,2,4,6,8,10,12,14],"labelOverlap":false,"labelBound":false,"labelFlush":false}},"y2":{"field":"hi"}}},
{"mark":{"type":"tick","size":4},"encoding":{"y":{"field":"lo","type":"quantitative","title":null,"axis":{"values":[0,2,4,6,8,10,12,14],"labelOverlap":false,"labelBound":false,"labelFlush":false}}}},
{"mark":{"type":"tick","size":4},"encoding":{"y":{"field":"hi","type":"quantitative","title":null,"axis":{"values":[0,2,4,6,8,10,12,14],"labelOverlap":false,"labelBound":false,"labelFlush":false}}}},
{"mark":"text","encoding":{"y":{"field":"hi","type":"quantitative","title":null,"axis":{"values":[0,2,4,6,8,10,12,14],"labelOverlap":false,"labelBound":false,"labelFlush":false}},"text":{"field":"l"}}}]},
{"width":139,"height":79,"title":{"text":"MdANS","anchor":"end","offset":-15,"fontStyle":"italic","fontSize":12.5,"dx":-2},"transform":[{"filter":"datum.g=='MdANS'&&datum.c=='GS'"}],
"encoding":{"x":{"field":"d","type":"ordinal","sort":[0,2,6,9,12,15],"scale":{"paddingInner":0.2,"paddingOuter":0.55},"axis":null},"xOffset":{"field":"t","scale":{"paddingInner":0.17,"paddingOuter":0.4}}},
"layer":[
{"mark":"bar","encoding":{"y":{"field":"v","type":"quantitative","title":null,"scale":{"domain":[0,37]},"axis":{"values":[0,10,20,30],"labelOverlap":false,"labelBound":false,"labelFlush":false}},"fill":{"field":"t","scale":{"domain":["C","T"],"range":["black","#c6c6c6"]},"legend":null}}},
{"mark":"rule","encoding":{"y":{"field":"lo","type":"quantitative","title":null,"axis":{"values":[0,10,20,30],"labelOverlap":false,"labelBound":false,"labelFlush":false}},"y2":{"field":"hi"}}},
{"mark":{"type":"tick","size":4},"encoding":{"y":{"field":"lo","type":"quantitative","title":null,"axis":{"values":[0,10,20,30],"labelOverlap":false,"labelBound":false,"labelFlush":false}}}},
{"mark":{"type":"tick","size":4},"encoding":{"y":{"field":"hi","type":"quantitative","title":null,"axis":{"values":[0,10,20,30],"labelOverlap":false,"labelBound":false,"labelFlush":false}}}},
{"mark":"text","encoding":{"y":{"field":"hi","type":"quantitative","title":null,"axis":{"values":[0,10,20,30],"labelOverlap":false,"labelBound":false,"labelFlush":false}},"text":{"field":"l"}}}]},
{"width":139,"height":79,"title":{"text":"MdUFGT","anchor":"end","offset":-15,"fontStyle":"italic","fontSize":12.5,"dx":-2},"transform":[{"filter":"datum.g=='MdUFGT'&&datum.c=='GS'"}],
"encoding":{"x":{"field":"d","type":"ordinal","sort":[0,2,6,9,12,15],"scale":{"paddingInner":0.2,"paddingOuter":0.55},"axis":{"title":null,"labelAngle":0,"ticks":false,"labelPadding":10,"labelFontSize":13}},"xOffset":{"field":"t","scale":{"paddingInner":0.17,"paddingOuter":0.4}}},
"layer":[
{"mark":"bar","encoding":{"y":{"field":"v","type":"quantitative","title":null,"scale":{"domain":[0,26]},"axis":{"values":[0,5,10,15,20,25],"labelOverlap":false,"labelBound":false,"labelFlush":false}},"fill":{"field":"t","scale":{"domain":["C","T"],"range":["black","#c6c6c6"]},"legend":null}}},
{"mark":"rule","encoding":{"y":{"field":"lo","type":"quantitative","title":null,"axis":{"values":[0,5,10,15,20,25],"labelOverlap":false,"labelBound":false,"labelFlush":false}},"y2":{"field":"hi"}}},
{"mark":{"type":"tick","size":4},"encoding":{"y":{"field":"lo","type":"quantitative","title":null,"axis":{"values":[0,5,10,15,20,25],"labelOverlap":false,"labelBound":false,"labelFlush":false}}}},
{"mark":{"type":"tick","size":4},"encoding":{"y":{"field":"hi","type":"quantitative","title":null,"axis":{"values":[0,5,10,15,20,25],"labelOverlap":false,"labelBound":false,"labelFlush":false}}}},
{"mark":"text","encoding":{"y":{"field":"hi","type":"quantitative","title":null,"axis":{"values":[0,5,10,15,20,25],"labelOverlap":false,"labelBound":false,"labelFlush":false}},"text":{"field":"l"}}}]}
    ]},
   {"title":{"text":"Golden Delicious","anchor":"middle","offset":5},"bounds":"flush","spacing":15,"resolve":{"legend":{"fill":"independent"}},
    "vconcat":[
{"width":139,"height":79,"title":{"text":"MdCHS","anchor":"end","offset":-15,"fontStyle":"italic","fontSize":12.5,"dx":-2},"transform":[{"filter":"datum.g=='MdCHS'&&datum.c=='GD'"}],
"encoding":{"x":{"field":"d","type":"ordinal","sort":[0,2,6,9,12,15],"scale":{"paddingInner":0.2,"paddingOuter":0.55},"axis":null},"xOffset":{"field":"t","scale":{"paddingInner":0.17,"paddingOuter":0.4}}},
"layer":[
{"mark":"bar","encoding":{"y":{"field":"v","type":"quantitative","title":null,"scale":{"domain":[0,7.4]},"axis":{"values":[0,2,4,6],"labelOverlap":false,"labelBound":false,"labelFlush":false}},"fill":{"field":"t","scale":{"domain":["C","T"],"range":["black","#c6c6c6"]},"legend":null}}},
{"mark":"rule","encoding":{"y":{"field":"lo","type":"quantitative","title":null,"axis":{"values":[0,2,4,6],"labelOverlap":false,"labelBound":false,"labelFlush":false}},"y2":{"field":"hi"}}},
{"mark":{"type":"tick","size":4},"encoding":{"y":{"field":"lo","type":"quantitative","title":null,"axis":{"values":[0,2,4,6],"labelOverlap":false,"labelBound":false,"labelFlush":false}}}},
{"mark":{"type":"tick","size":4},"encoding":{"y":{"field":"hi","type":"quantitative","title":null,"axis":{"values":[0,2,4,6],"labelOverlap":false,"labelBound":false,"labelFlush":false}}}},
{"mark":"text","encoding":{"y":{"field":"hi","type":"quantitative","title":null,"axis":{"values":[0,2,4,6],"labelOverlap":false,"labelBound":false,"labelFlush":false}},"text":{"field":"l"}}}]},
{"width":139,"height":79,"title":{"text":"MdCHI","anchor":"end","offset":-15,"fontStyle":"italic","fontSize":12.5,"dx":-2},"transform":[{"filter":"datum.g=='MdCHI'&&datum.c=='GD'"}],
"encoding":{"x":{"field":"d","type":"ordinal","sort":[0,2,6,9,12,15],"scale":{"paddingInner":0.2,"paddingOuter":0.55},"axis":null},"xOffset":{"field":"t","scale":{"paddingInner":0.17,"paddingOuter":0.4}}},
"layer":[
{"mark":"bar","encoding":{"y":{"field":"v","type":"quantitative","title":null,"scale":{"domain":[0,4.5]},"axis":{"values":[0,1,2,3,4],"labelOverlap":false,"labelBound":false,"labelFlush":false}},"fill":{"field":"t","scale":{"domain":["C","T"],"range":["black","#c6c6c6"]},"legend":null}}},
{"mark":"rule","encoding":{"y":{"field":"lo","type":"quantitative","title":null,"axis":{"values":[0,1,2,3,4],"labelOverlap":false,"labelBound":false,"labelFlush":false}},"y2":{"field":"hi"}}},
{"mark":{"type":"tick","size":4},"encoding":{"y":{"field":"lo","type":"quantitative","title":null,"axis":{"values":[0,1,2,3,4],"labelOverlap":false,"labelBound":false,"labelFlush":false}}}},
{"mark":{"type":"tick","size":4},"encoding":{"y":{"field":"hi","type":"quantitative","title":null,"axis":{"values":[0,1,2,3,4],"labelOverlap":false,"labelBound":false,"labelFlush":false}}}},
{"mark":"text","encoding":{"y":{"field":"hi","type":"quantitative","title":null,"axis":{"values":[0,1,2,3,4],"labelOverlap":false,"labelBound":false,"labelFlush":false}},"text":{"field":"l"}}}]},
{"width":139,"height":79,"title":{"text":"MdF3H","anchor":"end","offset":-15,"fontStyle":"italic","fontSize":12.5,"dx":-2},"transform":[{"filter":"datum.g=='MdF3H'&&datum.c=='GD'"}],
"encoding":{"x":{"field":"d","type":"ordinal","sort":[0,2,6,9,12,15],"scale":{"paddingInner":0.2,"paddingOuter":0.55},"axis":null},"xOffset":{"field":"t","scale":{"paddingInner":0.17,"paddingOuter":0.4}}},
"layer":[
{"mark":"bar","encoding":{"y":{"field":"v","type":"quantitative","title":null,"scale":{"domain":[0,7.5]},"axis":{"values":[0,2,4,6],"labelOverlap":false,"labelBound":false,"labelFlush":false}},"fill":{"field":"t","scale":{"domain":["C","T"],"range":["black","#c6c6c6"]},"legend":null}}},
{"mark":"rule","encoding":{"y":{"field":"lo","type":"quantitative","title":null,"axis":{"values":[0,2,4,6],"labelOverlap":false,"labelBound":false,"labelFlush":false}},"y2":{"field":"hi"}}},
{"mark":{"type":"tick","size":4},"encoding":{"y":{"field":"lo","type":"quantitative","title":null,"axis":{"values":[0,2,4,6],"labelOverlap":false,"labelBound":false,"labelFlush":false}}}},
{"mark":{"type":"tick","size":4},"encoding":{"y":{"field":"hi","type":"quantitative","title":null,"axis":{"values":[0,2,4,6],"labelOverlap":false,"labelBound":false,"labelFlush":false}}}},
{"mark":"text","encoding":{"y":{"field":"hi","type":"quantitative","title":null,"axis":{"values":[0,2,4,6],"labelOverlap":false,"labelBound":false,"labelFlush":false}},"text":{"field":"l"}}}]},
{"width":139,"height":79,"title":{"text":"MdDFR","anchor":"end","offset":-15,"fontStyle":"italic","fontSize":12.5,"dx":-2},"transform":[{"filter":"datum.g=='MdDFR'&&datum.c=='GD'"}],
"encoding":{"x":{"field":"d","type":"ordinal","sort":[0,2,6,9,12,15],"scale":{"paddingInner":0.2,"paddingOuter":0.55},"axis":null},"xOffset":{"field":"t","scale":{"paddingInner":0.17,"paddingOuter":0.4}}},
"layer":[
{"mark":"bar","encoding":{"y":{"field":"v","type":"quantitative","title":null,"scale":{"domain":[0,5.45]},"axis":{"values":[0,1,2,3,4,5],"labelOverlap":false,"labelBound":false,"labelFlush":false}},"fill":{"field":"t","scale":{"domain":["C","T"],"range":["black","#c6c6c6"]},"legend":null}}},
{"mark":"rule","encoding":{"y":{"field":"lo","type":"quantitative","title":null,"axis":{"values":[0,1,2,3,4,5],"labelOverlap":false,"labelBound":false,"labelFlush":false}},"y2":{"field":"hi"}}},
{"mark":{"type":"tick","size":4},"encoding":{"y":{"field":"lo","type":"quantitative","title":null,"axis":{"values":[0,1,2,3,4,5],"labelOverlap":false,"labelBound":false,"labelFlush":false}}}},
{"mark":{"type":"tick","size":4},"encoding":{"y":{"field":"hi","type":"quantitative","title":null,"axis":{"values":[0,1,2,3,4,5],"labelOverlap":false,"labelBound":false,"labelFlush":false}}}},
{"mark":"text","encoding":{"y":{"field":"hi","type":"quantitative","title":null,"axis":{"values":[0,1,2,3,4,5],"labelOverlap":false,"labelBound":false,"labelFlush":false}},"text":{"field":"l"}}}]},
{"width":139,"height":79,"title":{"text":"MdANS","anchor":"end","offset":-15,"fontStyle":"italic","fontSize":12.5,"dx":-2},"transform":[{"filter":"datum.g=='MdANS'&&datum.c=='GD'"}],
"encoding":{"x":{"field":"d","type":"ordinal","sort":[0,2,6,9,12,15],"scale":{"paddingInner":0.2,"paddingOuter":0.55},"axis":null},"xOffset":{"field":"t","scale":{"paddingInner":0.17,"paddingOuter":0.4}}},
"layer":[
{"mark":"bar","encoding":{"y":{"field":"v","type":"quantitative","title":null,"scale":{"domain":[0,4.5]},"axis":{"values":[0,1,2,3,4],"labelOverlap":false,"labelBound":false,"labelFlush":false}},"fill":{"field":"t","scale":{"domain":["C","T"],"range":["black","#c6c6c6"]},"legend":null}}},
{"mark":"rule","encoding":{"y":{"field":"lo","type":"quantitative","title":null,"axis":{"values":[0,1,2,3,4],"labelOverlap":false,"labelBound":false,"labelFlush":false}},"y2":{"field":"hi"}}},
{"mark":{"type":"tick","size":4},"encoding":{"y":{"field":"lo","type":"quantitative","title":null,"axis":{"values":[0,1,2,3,4],"labelOverlap":false,"labelBound":false,"labelFlush":false}}}},
{"mark":{"type":"tick","size":4},"encoding":{"y":{"field":"hi","type":"quantitative","title":null,"axis":{"values":[0,1,2,3,4],"labelOverlap":false,"labelBound":false,"labelFlush":false}}}},
{"mark":"text","encoding":{"y":{"field":"hi","type":"quantitative","title":null,"axis":{"values":[0,1,2,3,4],"labelOverlap":false,"labelBound":false,"labelFlush":false}},"text":{"field":"l"}}}]},
{"width":139,"height":79,"title":{"text":"MdUFGT","anchor":"end","offset":-15,"fontStyle":"italic","fontSize":12.5,"dx":-2},"transform":[{"filter":"datum.g=='MdUFGT'&&datum.c=='GD'"}],
"encoding":{"x":{"field":"d","type":"ordinal","sort":[0,2,6,9,12,15],"scale":{"paddingInner":0.2,"paddingOuter":0.55},"axis":{"title":null,"labelAngle":0,"ticks":false,"labelPadding":10,"labelFontSize":13}},"xOffset":{"field":"t","scale":{"paddingInner":0.17,"paddingOuter":0.4}}},
"layer":[
{"mark":"bar","encoding":{"y":{"field":"v","type":"quantitative","title":null,"scale":{"domain":[0,6.4]},"axis":{"values":[0,1,2,3,4,5,6],"labelOverlap":false,"labelBound":false,"labelFlush":false}},"fill":{"field":"t","scale":{"domain":["C","T"],"range":["black","#c6c6c6"]},"legend":null}}},
{"mark":"rule","encoding":{"y":{"field":"lo","type":"quantitative","title":null,"axis":{"values":[0,1,2,3,4,5,6],"labelOverlap":false,"labelBound":false,"labelFlush":false}},"y2":{"field":"hi"}}},
{"mark":{"type":"tick","size":4},"encoding":{"y":{"field":"lo","type":"quantitative","title":null,"axis":{"values":[0,1,2,3,4,5,6],"labelOverlap":false,"labelBound":false,"labelFlush":false}}}},
{"mark":{"type":"tick","size":4},"encoding":{"y":{"field":"hi","type":"quantitative","title":null,"axis":{"values":[0,1,2,3,4,5,6],"labelOverlap":false,"labelBound":false,"labelFlush":false}}}},
{"mark":"text","encoding":{"y":{"field":"hi","type":"quantitative","title":null,"axis":{"values":[0,1,2,3,4,5,6],"labelOverlap":false,"labelBound":false,"labelFlush":false}},"text":{"field":"l"}}}]}
    ]}
   ]}
  ]}
 ]},
{"title":{"text":"b","anchor":"start","fontSize":22,"fontWeight":"bold","font":"Liberation Sans","offset":-19,"dx":-6},
 "resolve":{"legend":{"fill":"independent"}},
 "vconcat":[
 {"title":{"text":"Relative mRNA level","orient":"left","anchor":"middle","fontSize":15,"offset":1},
  "resolve":{"legend":{"fill":"independent"}},
  "hconcat":[
  {"title":{"text":"Days af ter 5-aza-dC treatment (d)","orient":"bottom","anchor":"middle","fontSize":14,"offset":6},
   "resolve":{"legend":{"fill":"independent"}},
   "spacing":8,
   "hconcat":[
   {"title":{"text":"Granny Smith","anchor":"middle","offset":5},"bounds":"flush","spacing":15,"resolve":{"legend":{"fill":"independent"}},
    "vconcat":[
{"width":131,"height":79,"title":{"text":"MdMYB1","anchor":"end","offset":-29,"fontStyle":"italic","fontSize":12,"dx":-2},"transform":[{"filter":"datum.g=='MdMYB1'&&datum.c=='GS'"}],
"encoding":{"x":{"field":"d","type":"ordinal","sort":[0,2,6,9,12,15],"scale":{"paddingInner":0.2,"paddingOuter":0.55},"axis":null},"xOffset":{"field":"t","scale":{"paddingInner":0.17,"paddingOuter":0.4}}},
"layer":[
{"mark":"bar","encoding":{"y":{"field":"v","type":"quantitative","title":null,"scale":{"domain":[0,31]},"axis":{"values":[0,5,10,15,20,25,30],"labelOverlap":false,"labelBound":false,"labelFlush":false}},"fill":{"field":"t","scale":{"domain":["C","T"],"range":["black","#c6c6c6"]},"legend":{"orient":"none","legendX":6,"legendY":0,"title":null,"padding":0,"labelExpr":"datum.value=='C'?'Control fruit':'Treatment fruit'","symbolType":"M-2,-0.45H2V0.45H-2Z","symbolSize":121,"symbolStrokeColor":"black","symbolStrokeWidth":0.7,"labelFontSize":10.5,"labelFont":"Liberation Serif","rowPadding":0,"labelOffset":10}}}},
{"mark":"rule","encoding":{"y":{"field":"lo","type":"quantitative","title":null,"axis":{"values":[0,5,10,15,20,25,30],"labelOverlap":false,"labelBound":false,"labelFlush":false}},"y2":{"field":"hi"}}},
{"mark":{"type":"tick","size":4},"encoding":{"y":{"field":"lo","type":"quantitative","title":null,"axis":{"values":[0,5,10,15,20,25,30],"labelOverlap":false,"labelBound":false,"labelFlush":false}}}},
{"mark":{"type":"tick","size":4},"encoding":{"y":{"field":"hi","type":"quantitative","title":null,"axis":{"values":[0,5,10,15,20,25,30],"labelOverlap":false,"labelBound":false,"labelFlush":false}}}},
{"mark":"text","encoding":{"y":{"field":"hi","type":"quantitative","title":null,"axis":{"values":[0,5,10,15,20,25,30],"labelOverlap":false,"labelBound":false,"labelFlush":false}},"text":{"field":"l"}}}]},
{"width":131,"height":79,"title":{"text":"MdbHLH3","anchor":"end","offset":-15,"fontStyle":"italic","fontSize":12.5,"dx":-2},"transform":[{"filter":"datum.g=='MdbHLH3'&&datum.c=='GS'"}],
"encoding":{"x":{"field":"d","type":"ordinal","sort":[0,2,6,9,12,15],"scale":{"paddingInner":0.2,"paddingOuter":0.55},"axis":null},"xOffset":{"field":"t","scale":{"paddingInner":0.17,"paddingOuter":0.4}}},
"layer":[
{"mark":"bar","encoding":{"y":{"field":"v","type":"quantitative","title":null,"scale":{"domain":[0,5.3]},"axis":{"values":[0,1,2,3,4,5],"labelOverlap":false,"labelBound":false,"labelFlush":false}},"fill":{"field":"t","scale":{"domain":["C","T"],"range":["black","#c6c6c6"]},"legend":null}}},
{"mark":"rule","encoding":{"y":{"field":"lo","type":"quantitative","title":null,"axis":{"values":[0,1,2,3,4,5],"labelOverlap":false,"labelBound":false,"labelFlush":false}},"y2":{"field":"hi"}}},
{"mark":{"type":"tick","size":4},"encoding":{"y":{"field":"lo","type":"quantitative","title":null,"axis":{"values":[0,1,2,3,4,5],"labelOverlap":false,"labelBound":false,"labelFlush":false}}}},
{"mark":{"type":"tick","size":4},"encoding":{"y":{"field":"hi","type":"quantitative","title":null,"axis":{"values":[0,1,2,3,4,5],"labelOverlap":false,"labelBound":false,"labelFlush":false}}}},
{"mark":"text","encoding":{"y":{"field":"hi","type":"quantitative","title":null,"axis":{"values":[0,1,2,3,4,5],"labelOverlap":false,"labelBound":false,"labelFlush":false}},"text":{"field":"l"}}}]},
{"width":131,"height":79,"title":{"text":"MdTTG1","anchor":"end","offset":-15,"fontStyle":"italic","fontSize":12.5,"dx":-2},"transform":[{"filter":"datum.g=='MdTTG1'&&datum.c=='GS'"}],
"encoding":{"x":{"field":"d","type":"ordinal","sort":[0,2,6,9,12,15],"scale":{"paddingInner":0.2,"paddingOuter":0.55},"axis":{"title":null,"labelAngle":0,"ticks":false,"labelPadding":9,"labelFontSize":13}},"xOffset":{"field":"t","scale":{"paddingInner":0.17,"paddingOuter":0.4}}},
"layer":[
{"mark":"bar","encoding":{"y":{"field":"v","type":"quantitative","title":null,"scale":{"domain":[0,4.4]},"axis":{"values":[0,1,2,3,4],"labelOverlap":false,"labelBound":false,"labelFlush":false}},"fill":{"field":"t","scale":{"domain":["C","T"],"range":["black","#c6c6c6"]},"legend":null}}},
{"mark":"rule","encoding":{"y":{"field":"lo","type":"quantitative","title":null,"axis":{"values":[0,1,2,3,4],"labelOverlap":false,"labelBound":false,"labelFlush":false}},"y2":{"field":"hi"}}},
{"mark":{"type":"tick","size":4},"encoding":{"y":{"field":"lo","type":"quantitative","title":null,"axis":{"values":[0,1,2,3,4],"labelOverlap":false,"labelBound":false,"labelFlush":false}}}},
{"mark":{"type":"tick","size":4},"encoding":{"y":{"field":"hi","type":"quantitative","title":null,"axis":{"values":[0,1,2,3,4],"labelOverlap":false,"labelBound":false,"labelFlush":false}}}},
{"mark":"text","encoding":{"y":{"field":"hi","type":"quantitative","title":null,"axis":{"values":[0,1,2,3,4],"labelOverlap":false,"labelBound":false,"labelFlush":false}},"text":{"field":"l"}}}]}
    ]},
   {"title":{"text":"Golden Delicious","anchor":"middle","offset":5},"bounds":"flush","spacing":15,"resolve":{"legend":{"fill":"independent"}},
    "vconcat":[
{"width":131,"height":79,"title":{"text":"MdMYB1","anchor":"end","offset":-15,"fontStyle":"italic","fontSize":12.5,"dx":-2},"transform":[{"filter":"datum.g=='MdMYB1'&&datum.c=='GD'"}],
"encoding":{"x":{"field":"d","type":"ordinal","sort":[0,2,6,9,12,15],"scale":{"paddingInner":0.2,"paddingOuter":0.55},"axis":null},"xOffset":{"field":"t","scale":{"paddingInner":0.17,"paddingOuter":0.4}}},
"layer":[
{"mark":"bar","encoding":{"y":{"field":"v","type":"quantitative","title":null,"scale":{"domain":[0,4.4]},"axis":{"values":[0,1,2,3,4],"labelOverlap":false,"labelBound":false,"labelFlush":false}},"fill":{"field":"t","scale":{"domain":["C","T"],"range":["black","#c6c6c6"]},"legend":null}}},
{"mark":"rule","encoding":{"y":{"field":"lo","type":"quantitative","title":null,"axis":{"values":[0,1,2,3,4],"labelOverlap":false,"labelBound":false,"labelFlush":false}},"y2":{"field":"hi"}}},
{"mark":{"type":"tick","size":4},"encoding":{"y":{"field":"lo","type":"quantitative","title":null,"axis":{"values":[0,1,2,3,4],"labelOverlap":false,"labelBound":false,"labelFlush":false}}}},
{"mark":{"type":"tick","size":4},"encoding":{"y":{"field":"hi","type":"quantitative","title":null,"axis":{"values":[0,1,2,3,4],"labelOverlap":false,"labelBound":false,"labelFlush":false}}}},
{"mark":"text","encoding":{"y":{"field":"hi","type":"quantitative","title":null,"axis":{"values":[0,1,2,3,4],"labelOverlap":false,"labelBound":false,"labelFlush":false}},"text":{"field":"l"}}}]},
{"width":131,"height":79,"title":{"text":"MdbHLH3","anchor":"end","offset":-15,"fontStyle":"italic","fontSize":12.5,"dx":-2},"transform":[{"filter":"datum.g=='MdbHLH3'&&datum.c=='GD'"}],
"encoding":{"x":{"field":"d","type":"ordinal","sort":[0,2,6,9,12,15],"scale":{"paddingInner":0.2,"paddingOuter":0.55},"axis":null},"xOffset":{"field":"t","scale":{"paddingInner":0.17,"paddingOuter":0.4}}},
"layer":[
{"mark":"bar","encoding":{"y":{"field":"v","type":"quantitative","title":null,"scale":{"domain":[0,4.4]},"axis":{"values":[0,1,2,3,4],"labelOverlap":false,"labelBound":false,"labelFlush":false}},"fill":{"field":"t","scale":{"domain":["C","T"],"range":["black","#c6c6c6"]},"legend":null}}},
{"mark":"rule","encoding":{"y":{"field":"lo","type":"quantitative","title":null,"axis":{"values":[0,1,2,3,4],"labelOverlap":false,"labelBound":false,"labelFlush":false}},"y2":{"field":"hi"}}},
{"mark":{"type":"tick","size":4},"encoding":{"y":{"field":"lo","type":"quantitative","title":null,"axis":{"values":[0,1,2,3,4],"labelOverlap":false,"labelBound":false,"labelFlush":false}}}},
{"mark":{"type":"tick","size":4},"encoding":{"y":{"field":"hi","type":"quantitative","title":null,"axis":{"values":[0,1,2,3,4],"labelOverlap":false,"labelBound":false,"labelFlush":false}}}},
{"mark":"text","encoding":{"y":{"field":"hi","type":"quantitative","title":null,"axis":{"values":[0,1,2,3,4],"labelOverlap":false,"labelBound":false,"labelFlush":false}},"text":{"field":"l"}}}]},
{"width":131,"height":79,"title":{"text":"MdTTG1","anchor":"end","offset":-15,"fontStyle":"italic","fontSize":12.5,"dx":-2},"transform":[{"filter":"datum.g=='MdTTG1'&&datum.c=='GD'"}],
"encoding":{"x":{"field":"d","type":"ordinal","sort":[0,2,6,9,12,15],"scale":{"paddingInner":0.2,"paddingOuter":0.55},"axis":{"title":null,"labelAngle":0,"ticks":false,"labelPadding":9,"labelFontSize":13}},"xOffset":{"field":"t","scale":{"paddingInner":0.17,"paddingOuter":0.4}}},
"layer":[
{"mark":"bar","encoding":{"y":{"field":"v","type":"quantitative","title":null,"scale":{"domain":[0,4.4]},"axis":{"values":[0,1,2,3,4],"labelOverlap":false,"labelBound":false,"labelFlush":false}},"fill":{"field":"t","scale":{"domain":["C","T"],"range":["black","#c6c6c6"]},"legend":null}}},
{"mark":"rule","encoding":{"y":{"field":"lo","type":"quantitative","title":null,"axis":{"values":[0,1,2,3,4],"labelOverlap":false,"labelBound":false,"labelFlush":false}},"y2":{"field":"hi"}}},
{"mark":{"type":"tick","size":4},"encoding":{"y":{"field":"lo","type":"quantitative","title":null,"axis":{"values":[0,1,2,3,4],"labelOverlap":false,"labelBound":false,"labelFlush":false}}}},
{"mark":{"type":"tick","size":4},"encoding":{"y":{"field":"hi","type":"quantitative","title":null,"axis":{"values":[0,1,2,3,4],"labelOverlap":false,"labelBound":false,"labelFlush":false}}}},
{"mark":"text","encoding":{"y":{"field":"hi","type":"quantitative","title":null,"axis":{"values":[0,1,2,3,4],"labelOverlap":false,"labelBound":false,"labelFlush":false}},"text":{"field":"l"}}}]}
    ]}
   ]}
  ]}
 ]}
]
}
